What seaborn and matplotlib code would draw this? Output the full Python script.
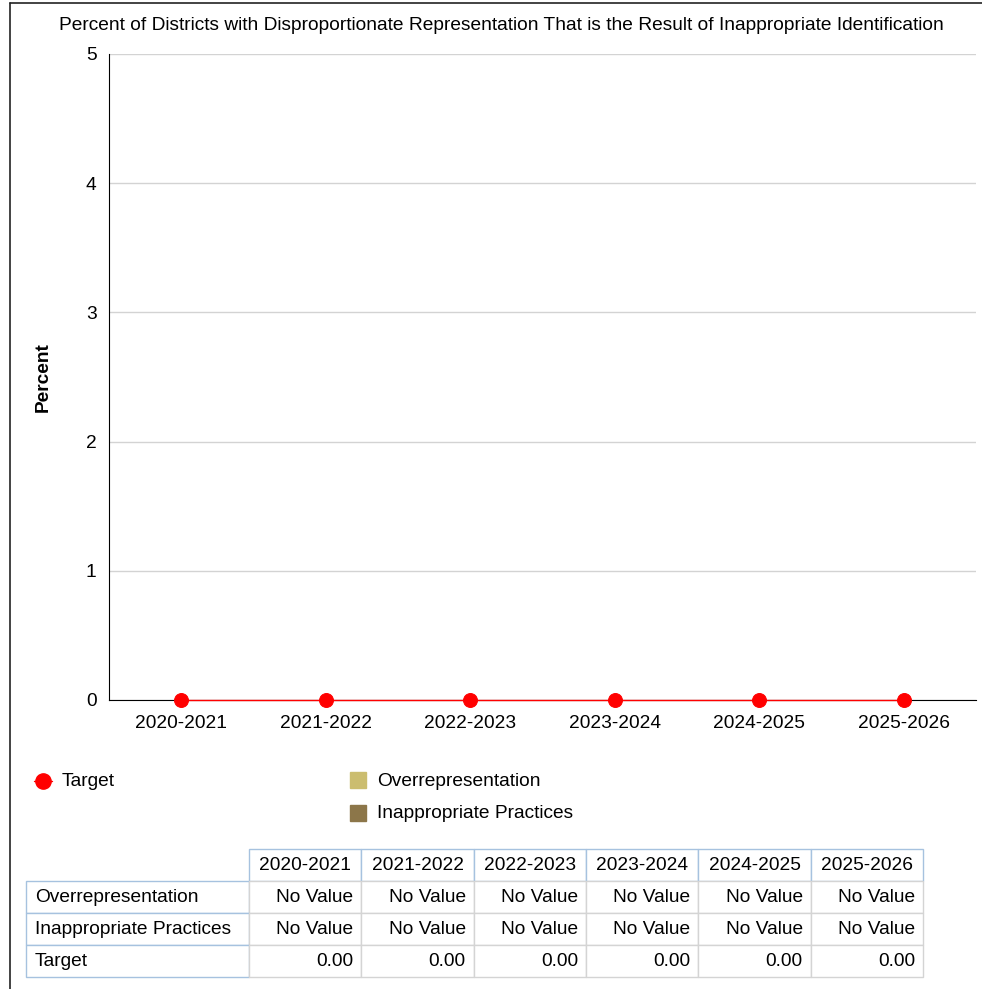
import numpy as np
import pandas as pd
import matplotlib
matplotlib.use('Agg')
import matplotlib.pyplot as plt
import seaborn as sns
from matplotlib.lines import Line2D
from matplotlib.patches import Rectangle

# data
years = ['2020-2021', '2021-2022', '2022-2023', '2023-2024', '2024-2025', '2025-2026']
target = [0.0, 0.0, 0.0, 0.0, 0.0, 0.0]
overrep = [None, None, None, None, None, None]
inapp = [None, None, None, None, None, None]
yticks = [0, 1, 2, 3, 4, 5]

sns.set_style('white')
plt.rcParams['font.family'] = ['Liberation Sans', 'DejaVu Sans']
plt.rcParams['text.color'] = 'black'
plt.rcParams['axes.labelcolor'] = 'black'
FS = 13.8

df = pd.DataFrame({'Year': years, 'Target': target})

fig = plt.figure(figsize=(9.82, 9.89), dpi=100)
ax = fig.add_axes([109/982, 1-700/989, 867/982, 646/989])

sns.lineplot(data=df, x='Year', y='Target', ax=ax, color='#ff0000', lw=1,
             marker='o', markersize=10, markeredgecolor='#ff0000', sort=False, zorder=5,
             clip_on=False)

ax.set_xlim(-0.5, len(years) - 0.5)
ax.set_ylim(0, 5)
ax.set_yticks(yticks)
ax.yaxis.grid(True, color='#d3d3d3', lw=1)
ax.set_axisbelow(True)
for s in ['top', 'right']:
    ax.spines[s].set_visible(False)
ax.spines['left'].set_color('black')
ax.spines['bottom'].set_color('black')
ax.tick_params(axis='both', length=0, labelsize=FS, colors='black')
ax.tick_params(axis='y', pad=9)
ax.tick_params(axis='x', pad=11)
ax.set_xlabel('')
ax.set_ylabel('Percent', fontsize=FS, fontweight='bold', color='black')
ax.yaxis.set_label_coords(-57/867, 0.5)

fig.text(501/982, 1-25/989, 'Percent of Districts with Disproportionate Representation That is the Result of Inappropriate Identification',
         ha='center', va='center', fontsize=FS)

# legend
fig.add_artist(Line2D([34/982, 52/982], [1-781/989]*2, color='#ff0000', lw=1))
fig.add_artist(Line2D([43/982], [1-781/989], marker='o', markersize=11, color='#ff0000'))
fig.text(62/982, 1-781/989, 'Target', va='center', fontsize=FS)
for yy, col, lab in [(780, '#cbbd6f', 'Overrepresentation'), (813, '#8c7649', 'Inappropriate Practices')]:
    fig.add_artist(Rectangle((350/982, 1-(yy+8)/989), 16/982, 16/989, color=col, transform=fig.transFigure))
    fig.text(377/982, 1-(yy+1)/989, lab, va='center', fontsize=FS)

# data table
rows = ['Overrepresentation', 'Inappropriate Practices', 'Target']
vals = [['No Value' if v is None else f'{v:.2f}' for v in overrep],
        ['No Value' if v is None else f'{v:.2f}' for v in inapp],
        [f'{v:.2f}' for v in target]]
cells = [[''] + years] + [[r] + v for r, v in zip(rows, vals)]
tab_ax = fig.add_axes([26/982, 1-977/989, 897/982, 128/989])
tab_ax.axis('off')
cw = [223/897] + [674/6/897] * 6
tb = tab_ax.table(cellText=cells, colWidths=cw, bbox=[0, 0, 1, 1], cellLoc='right')
tb.auto_set_font_size(False)
tb.set_fontsize(FS)
blue = '#a6c2df'
gray = '#d4d4d4'
for (r, c), cell in tb.get_celld().items():
    cell.set_linewidth(1)
    if r == 0 and c == 0:
        cell.set_edgecolor('white')
        cell.set_zorder(0)
    elif r == 0:
        cell.set_edgecolor(blue)
        cell._loc = 'center'
        cell.get_text().set_ha('center')
        cell.set_zorder(3)
    elif c == 0:
        cell.set_edgecolor(blue)
        cell._loc = 'left'
        cell.get_text().set_ha('left')
        cell.PAD = 0.04
        cell.set_zorder(3)
    else:
        cell.set_edgecolor(gray)
        cell.PAD = 0.07

# outer frame
fig.add_artist(Line2D([10/982, 10/982], [0, 1-3/989], color='#222222', lw=1.2))
fig.add_artist(Line2D([10/982, 1], [1-3/989, 1-3/989], color='#222222', lw=1.2))

fig.savefig('out.png', dpi=100)
